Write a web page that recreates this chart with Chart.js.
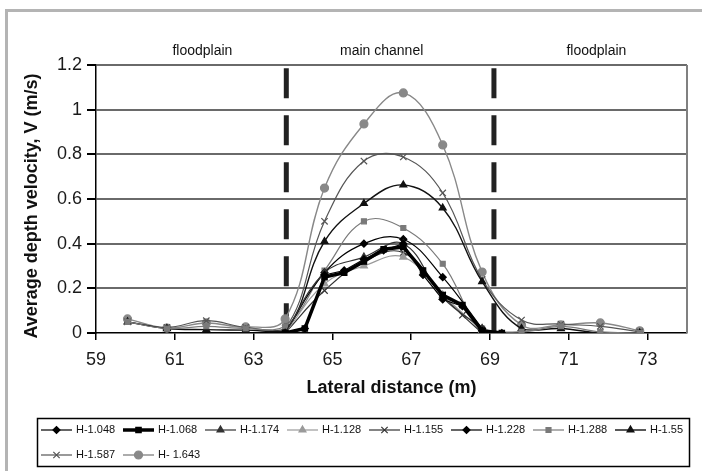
<!DOCTYPE html>
<html><head><meta charset="utf-8">
<script src="https://cdn.jsdelivr.net/npm/chart.js@4/dist/chart.umd.min.js"></script>
<style>
html,body{margin:0;padding:0;background:#fff;}
#wrap{position:relative;width:702px;height:471px;overflow:hidden;background:#fff;}
#frame{position:absolute;left:5px;top:9px;width:720px;height:480px;border-left:3px solid #b4b4b4;border-top:3px solid #b4b4b4;}
canvas{position:absolute;left:0;top:0;}
</style></head><body>
<div id="wrap"><div id="frame"></div><canvas id="c" width="702" height="471"></canvas></div>
<script>
// ---- data ----
const xOverbank = [59.8, 60.8, 61.8, 62.8, 63.8, 64.8, 65.8, 66.8, 67.8, 68.8, 69.8, 70.8, 71.8, 72.8];
const xChannelHalf = [63.8, 64.3, 64.8, 65.3, 65.8, 66.3, 66.8, 67.3, 67.8, 68.3, 68.8, 69.3];
const xChannel = [63.8, 64.8, 65.8, 66.8, 67.8, 68.8];
const x1155 = [63.8, 64.8, 65.8, 66.8, 67.8, 68.3, 68.8];

const seriesNames = ['H-1.048', 'H-1.068', 'H-1.174', 'H-1.128', 'H-1.155', 'H-1.228', 'H-1.288', 'H-1.55', 'H-1.587', 'H- 1.643'];
const v1048 = [0.00, 0.02, 0.26, 0.28, 0.33, 0.37, 0.40, 0.26, 0.15, 0.12, 0.01, 0.00];
const v1068 = [0.00, 0.02, 0.25, 0.27, 0.32, 0.375, 0.385, 0.28, 0.17, 0.125, 0.01, 0.00];
const v1174 = [0.00, 0.27, 0.34, 0.40, 0.16, 0.02];
const v1128 = [0.00, 0.22, 0.30, 0.34, 0.17, 0.01];
const v1155 = [0.00, 0.19, 0.32, 0.36, 0.17, 0.08, 0.00];
const v1228 = [0.00, 0.27, 0.40, 0.42, 0.25, 0.02];
const v1288 = [0.05, 0.02, 0.03, 0.02, 0.03, 0.28, 0.50, 0.47, 0.31, 0.02, 0.005, 0.03, 0.005, 0.00];
const v155  = [0.05, 0.02, 0.015, 0.013, 0.01, 0.41, 0.58, 0.663, 0.56, 0.23, 0.02, 0.02, 0.00, 0.00];
const v1587 = [0.05, 0.025, 0.055, 0.025, 0.02, 0.50, 0.77, 0.788, 0.627, 0.24, 0.058, 0.04, 0.03, 0.005];
const v1643 = [0.063, 0.022, 0.045, 0.027, 0.063, 0.649, 0.936, 1.075, 0.842, 0.273, 0.036, 0.036, 0.045, 0.01];

const boundaries = [63.83, 69.1];          // main-channel / floodplain boundaries
const boundaryTop = 1.185;
const regionLabels = ['floodplain', 'main channel', 'floodplain'];
const regionCenters = [61.7, 66.25, 71.7];
const xTickValues = [59, 61, 63, 65, 67, 69, 71, 73];
const xTitle = 'Lateral distance (m)';
const yTitle = 'Average depth velocity, V (m/s)';

// ---- styles ----
const FONT = "'Liberation Sans', Arial, sans-serif";
const styles = [
  {c:'#000', w:1.2, p:'rectRot', r:3.5, t:0},
  {c:'#000', w:3.5, p:'rect', r:3.8, t:0},
  {c:'#333', w:1.2, p:'triangle', r:4, t:0.4},
  {c:'#9a9a9a', w:1.2, p:'triangle', r:4, t:0.4},
  {c:'#333', w:1.2, p:'crossRot', r:4.5, t:0.4},
  {c:'#000', w:1.2, p:'rectRot', r:3.5, t:0.4},
  {c:'#7a7a7a', w:1.2, p:'rect', r:3.5, t:0.4},
  {c:'#111', w:1.4, p:'triangle', r:4, t:0.4},
  {c:'#555', w:1.2, p:'crossRot', r:4.5, t:0.4},
  {c:'#888', w:1.4, p:'circle', r:4, t:0.4}
];
const xs = [xChannelHalf, xChannelHalf, xChannel, xChannel, x1155, xChannel, xOverbank, xOverbank, xOverbank, xOverbank];
const vs = [v1048, v1068, v1174, v1128, v1155, v1228, v1288, v155, v1587, v1643];

const datasets = seriesNames.map((name, i) => ({
  label: name,
  data: xs[i].map((x, k) => ({x: x, y: vs[i][k]})),
  borderColor: styles[i].c,
  backgroundColor: styles[i].c,
  borderWidth: styles[i].w,
  pointStyle: styles[i].p,
  pointRadius: styles[i].r,
  pointBorderWidth: 1.2,
  pointBorderColor: styles[i].c,
  pointBackgroundColor: styles[i].c,
  tension: styles[i].t,
  order: i === 1 ? -1 : i
}));
boundaries.forEach(b => datasets.push({
  label: '_boundary',
  data: [{x: b, y: boundaryTop}, {x: b, y: 0}],
  borderColor: '#222',
  borderWidth: 5,
  borderDash: [30, 17],
  borderCapStyle: 'butt',
  pointRadius: 0,
  tension: 0,
  order: 50
}));

const decor = {
  id: 'decor',
  afterDraw(chart) {
    const ctx = chart.ctx, a = chart.chartArea, xs_ = chart.scales.x;
    ctx.save();
    // right edge of plot area
    ctx.strokeStyle = '#808080'; ctx.lineWidth = 2;
    ctx.beginPath(); ctx.moveTo(a.right, a.top); ctx.lineTo(a.right, a.bottom); ctx.stroke();
    // region labels
    ctx.fillStyle = '#111'; ctx.font = '14px ' + FONT; ctx.textAlign = 'center'; ctx.textBaseline = 'middle';
    regionLabels.forEach((t, i) => ctx.fillText(t, xs_.getPixelForValue(regionCenters[i]), 51));
    // axis titles
    ctx.font = 'bold 18px ' + FONT;
    ctx.fillText(xTitle, (a.left + a.right) / 2, 388);
    ctx.save(); ctx.translate(32, 206); ctx.rotate(-Math.PI / 2); ctx.fillText(yTitle, 0, 0); ctx.restore();
    // legend
    ctx.strokeStyle = '#000'; ctx.lineWidth = 1.5;
    ctx.strokeRect(37.5, 418.5, 652, 48);
    ctx.font = '11px ' + FONT; ctx.textAlign = 'left';
    seriesNames.forEach((name, i) => {
      const row = i < 8 ? 0 : 1, col = i < 8 ? i : i - 8;
      const x0 = 41 + col * 82, y = row === 0 ? 430 : 455;
      const s = styles[i];
      ctx.strokeStyle = s.c; ctx.lineWidth = s.w;
      ctx.beginPath(); ctx.moveTo(x0, y); ctx.lineTo(x0 + 31, y); ctx.stroke();
      ctx.fillStyle = s.c; ctx.lineWidth = 1.2;
      Chart.helpers.drawPoint(ctx, {pointStyle: s.p, radius: s.r, rotation: 0, borderWidth: 1.2}, x0 + 15.5, y);
      ctx.fillStyle = '#111';
      ctx.fillText(name, x0 + 35, y);
    });
    ctx.restore();
  }
};

new Chart(document.getElementById('c'), {
  type: 'line',
  data: {datasets},
  options: {
    responsive: false,
    animation: false,
    devicePixelRatio: 1,
    layout: {padding: {left: 0, top: 65, right: 15, bottom: 88}},
    plugins: {legend: {display: false}, tooltip: {enabled: false}},
    elements: {line: {fill: false}},
    scales: {
      x: {
        type: 'linear', min: 59, max: 74,
        afterBuildTicks: s => { s.ticks = xTickValues.map(v => ({value: v})); },
        afterFit: s => { s.height = 50; },
        grid: {drawOnChartArea: false, drawTicks: true, tickLength: 7, tickColor: '#000', lineWidth: 1.5},
        border: {color: '#000', width: 1.5},
        ticks: {font: {family: FONT, size: 18}, color: '#1a1a1a', padding: 9, maxRotation: 0}
      },
      y: {
        min: 0, max: 1.2,
        afterFit: s => { s.width = 96; },
        grid: {color: ctx => (ctx.tick && ctx.tick.value === 0) ? 'rgba(0,0,0,0)' : '#6a6a6a', lineWidth: 2, tickLength: 9, tickColor: '#000'},
        border: {color: '#000', width: 1.5},
        ticks: {stepSize: 0.2, font: {family: FONT, size: 18}, color: '#1a1a1a', padding: 5,
                callback: v => String(Number(v.toFixed(1)))}
      }
    }
  },
  plugins: [decor]
});
</script>
</body></html>
